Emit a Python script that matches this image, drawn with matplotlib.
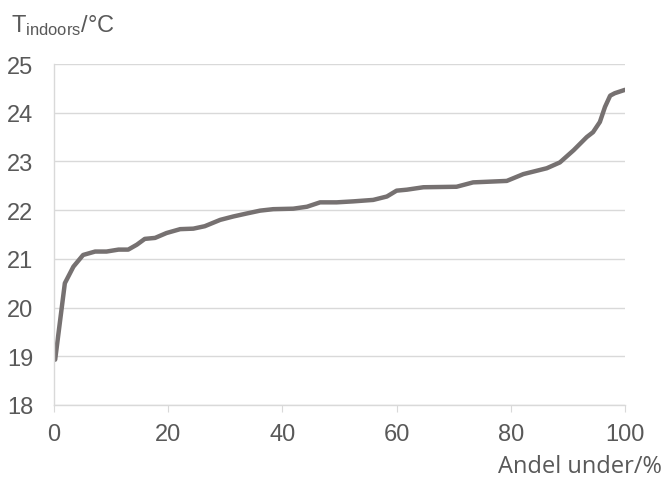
import numpy as np
import matplotlib.pyplot as plt

plt.rcParams['mathtext.fontset'] = 'custom'
plt.rcParams['mathtext.rm'] = 'Liberation Sans'
plt.rcParams['mathtext.it'] = 'Liberation Sans'

# share of time below (%) and indoor temperature (C)
andel = [0.2, 1.9, 3.4, 5.1, 7.2, 9.2, 11.3, 13.0, 14.5, 15.9, 17.7, 19.7, 22.1,
         24.4, 26.4, 29.1, 31.4, 33.7, 36.1, 38.4, 41.9, 44.3, 46.6, 49.5, 52.4,
         55.9, 58.3, 60.0, 61.8, 64.7, 70.5, 73.4, 79.3, 82.2, 86.3, 88.6, 91.0,
         93.3, 94.4, 95.6, 96.5, 97.4, 98.2, 100.0]
temp = [18.93, 20.5, 20.84, 21.08, 21.15, 21.15, 21.19, 21.19, 21.29, 21.41, 21.43,
        21.53, 21.61, 21.62, 21.67, 21.8, 21.87, 21.93, 21.99, 22.02, 22.03, 22.07,
        22.16, 22.16, 22.18, 22.21, 22.28, 22.4, 22.42, 22.47, 22.48, 22.57, 22.6,
        22.74, 22.86, 22.98, 23.23, 23.5, 23.6, 23.81, 24.12, 24.35, 24.4, 24.47]

xticks = [0, 20, 40, 60, 80, 100]
yticks = [18, 19, 20, 21, 22, 23, 24, 25]

txt = '#595959'
grid = '#d9d9d9'

fig = plt.figure(figsize=(6.66, 4.81), dpi=100)
ax = fig.add_axes([54/666, 1 - 406/481, 571/666, 341/481])

ax.plot(andel, temp, color='#767171', lw=3.2, solid_capstyle='round', solid_joinstyle='round')

ax.set_xlim(0, 100)
ax.set_ylim(18, 25)
ax.set_xticks(xticks)
ax.set_yticks(yticks)
ax.grid(axis='y', color=grid, lw=1)
ax.set_axisbelow(True)

for s in ['top', 'right']:
    ax.spines[s].set_visible(False)
for s in ['left', 'bottom']:
    ax.spines[s].set_color(grid)
    ax.spines[s].set_linewidth(1)

ax.tick_params(axis='x', length=5, color=grid, pad=8, labelsize=17, labelcolor=txt)
ax.tick_params(axis='y', length=0, pad=15, labelsize=17, labelcolor=txt)
for lab in ax.get_xticklabels() + ax.get_yticklabels():
    lab.set_fontfamily('Liberation Sans')

fig.text(11/666, 1 - 32/481, r'$\mathregular{T_{indoors}}$/°C', color=txt,
         fontsize=17, family='Liberation Sans', va='baseline', ha='left')
fig.text(662/666, 1 - 467/481, 'Andel under/%', color=txt, fontsize=17,
         family='Open Sans', va='center', ha='right')

plt.savefig('out.png', dpi=100)
